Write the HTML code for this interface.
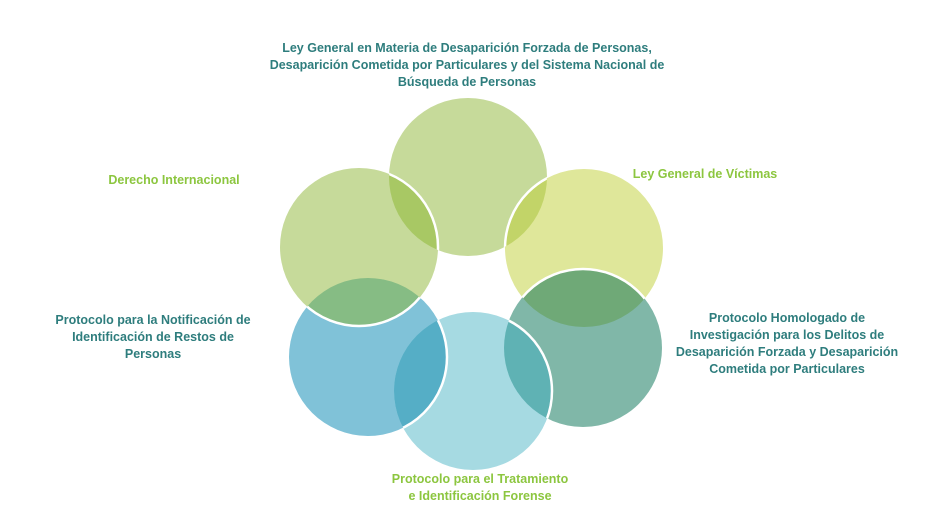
<!DOCTYPE html>
<html><head><meta charset="utf-8"><style>
html,body{margin:0;padding:0;background:#fff;}
body{width:931px;height:521px;position:relative;overflow:hidden;font-family:"Liberation Sans",sans-serif;font-weight:bold;}
.t{position:absolute;text-align:center;font-size:12.5px;line-height:17px;white-space:nowrap;}
.d{color:#2e7d7d;}
.g{color:#8cc63f;}
svg{position:absolute;left:0;top:0;}
</style></head><body>
<svg width="931" height="521">
<defs>
<clipPath id="cT"><circle cx="468" cy="177" r="79"/></clipPath>
<clipPath id="cLT"><circle cx="359" cy="247" r="79"/></clipPath>
<clipPath id="cRT"><circle cx="584" cy="248" r="79"/></clipPath>
<clipPath id="cLB"><circle cx="368" cy="357" r="79"/></clipPath>
<clipPath id="cB"><circle cx="473" cy="391" r="79"/></clipPath>
<clipPath id="cRB"><circle cx="583" cy="348" r="79"/></clipPath>
</defs>
<circle cx="468" cy="177" r="79" fill="#c6da9a"/>
<circle cx="368" cy="357" r="79" fill="#80c2d8"/>
<circle cx="359" cy="247" r="79" fill="#c6da9a"/>
<circle cx="584" cy="248" r="79" fill="#dfe79a"/>
<circle cx="583" cy="348" r="79" fill="#80b7a8"/>
<circle cx="473" cy="391" r="79" fill="#a6dae2"/>
<circle cx="359" cy="247" r="79" fill="#a8c864" clip-path="url(#cT)"/>
<circle cx="584" cy="248" r="79" fill="#c2d468" clip-path="url(#cT)"/>
<circle cx="359" cy="247" r="79" fill="#86bc84" clip-path="url(#cLB)"/>
<circle cx="583" cy="348" r="79" fill="#6fa977" clip-path="url(#cRT)"/>
<circle cx="473" cy="391" r="79" fill="#55aec6" clip-path="url(#cLB)"/>
<circle cx="473" cy="391" r="79" fill="#5fb2b4" clip-path="url(#cRB)"/>
<g fill="none" stroke="#fff" stroke-width="2.5">
<circle cx="359" cy="247" r="79" clip-path="url(#cT)"/>
<circle cx="584" cy="248" r="79" clip-path="url(#cT)"/>
<circle cx="359" cy="247" r="79" clip-path="url(#cLB)"/>
<circle cx="583" cy="348" r="79" clip-path="url(#cRT)"/>
<circle cx="368" cy="357" r="79" clip-path="url(#cB)"/>
<circle cx="473" cy="391" r="79" clip-path="url(#cRB)"/>
</g>
</svg>
<div class="t d" style="left:0;width:934px;top:40px;">Ley General en Materia de Desaparición Forzada de Personas,<br>Desaparición Cometida por Particulares y del Sistema Nacional de<br>Búsqueda de Personas</div>
<div class="t g" style="left:94px;width:160px;top:172px;">Derecho Internacional</div>
<div class="t g" style="left:620px;width:170px;top:166px;">Ley General de Víctimas</div>
<div class="t d" style="left:40px;width:226px;top:312px;">Protocolo para la Notificación de<br>Identificación de Restos de<br>Personas</div>
<div class="t d" style="left:660px;width:254px;top:310px;">Protocolo Homologado de<br>Investigación para los Delitos de<br>Desaparición Forzada y Desaparición<br>Cometida por Particulares</div>
<div class="t g" style="left:360px;width:240px;top:471px;">Protocolo para el Tratamiento<br>e Identificación Forense</div>
</body></html>
